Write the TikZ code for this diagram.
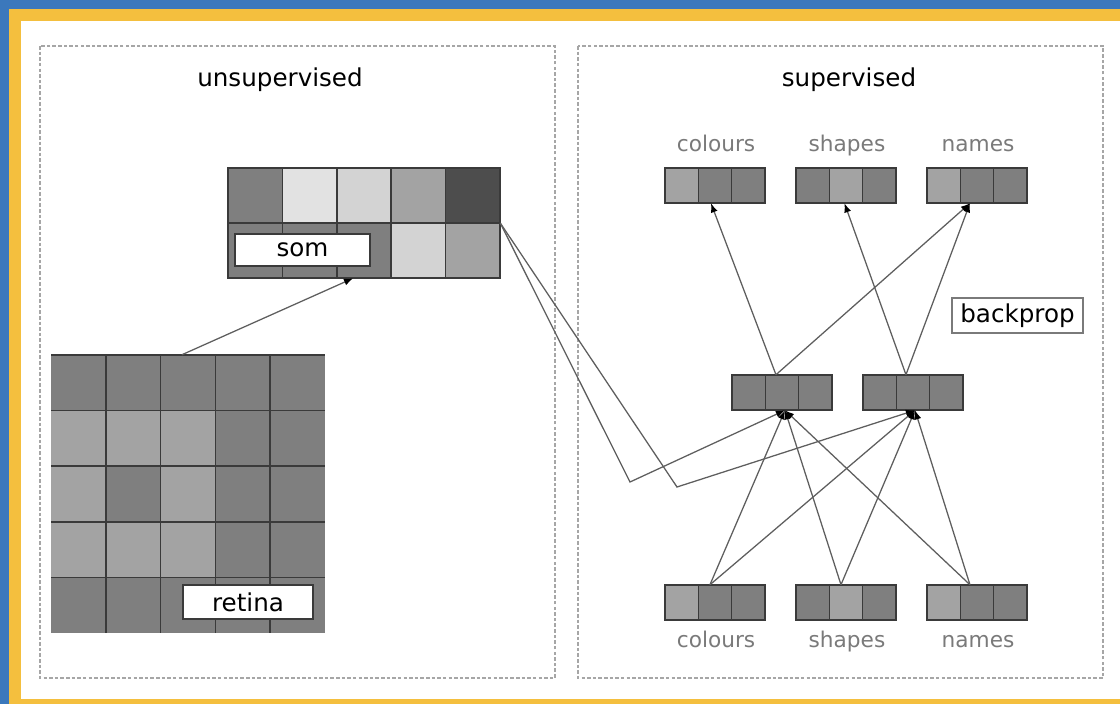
\documentclass[tikz,border=0pt]{standalone}
\usepackage{fontspec}
\setmainfont{DejaVu Sans}
\usetikzlibrary{arrows.meta,calc,fit}

\definecolor{frameblue}{HTML}{3B78BC}
\definecolor{frameyellow}{HTML}{F4BF3E}
\definecolor{boxdash}{HTML}{A6A6A6}
\definecolor{cellA}{HTML}{7F7F7F}
\definecolor{cellB}{HTML}{A3A3A3}
\definecolor{cellC}{HTML}{D3D3D3}
\definecolor{cellD}{HTML}{E2E2E2}
\definecolor{cellE}{HTML}{4D4D4D}
\definecolor{gridcol}{HTML}{3A3A3A}
\definecolor{wirecol}{HTML}{5E5E5E}
\definecolor{labelgray}{HTML}{7A7A7A}

% a layer of three units: name, x, y, three fill colours
\newcommand{\unitrow}[6]{%
  \fill[#4] (#2,#3) rectangle ++(33.33,35);
  \fill[#5] (#2+33.33,#3) rectangle ++(33.33,35);
  \fill[#6] (#2+66.67,#3) rectangle ++(33.33,35);
  \draw[gridline] (#2,#3) rectangle ++(100,35);
  \draw[gridline] (#2+33.33,#3) -- ++(0,35);
  \draw[gridline] (#2+66.67,#3) -- ++(0,35);
  \node[fit={(#2,#3)(#2+100,#3+35)}, inner sep=0pt] (#1) {};
}

\tikzset{
  panel/.style={draw=boxdash, line width=1pt, dash pattern=on 2.5pt off 1.5pt},
  gridline/.style={draw=gridcol, line width=1.1pt},
  title/.style={font=\fontsize{17.5}{20}\selectfont, text=black, anchor=base},
  unitlabel/.style={font=\fontsize{15.4}{18}\selectfont, text=labelgray, anchor=base},
  tagbox/.style={fill=white, draw=gridcol, line width=0.8pt, inner sep=0pt,
    font=\fontsize{17.5}{20}\selectfont},
  backbox/.style={fill=white, draw=labelgray, line width=1pt, inner sep=0pt,
    minimum width=3.275cm, minimum height=0.875cm, font=\fontsize{17.5}{20}\selectfont},
  wire/.style={draw=wirecol, line width=0.9pt,
    -{Latex[length=6.5pt,width=5pt,color=black]}},
}

\begin{document}
\begin{tikzpicture}[x=0.025cm,y=-0.025cm]
\useasboundingbox (0,0) rectangle (1120,704);

% frame
\fill[frameblue] (0,0) rectangle (1120,704);
\fill[frameyellow] (9,9) rectangle (1120,704);
\fill[white] (21,21) rectangle (1120,699);

% the two panels
\draw[panel] (40,46) rectangle (555,678);
\draw[panel] (578,46) rectangle (1103,678);
\node[title] (tUns) at (280,86) {unsupervised};
\node[title] (tSup) at (849,86) {supervised};

% self-organising map
\foreach \i/\c in {0/cellA,1/cellD,2/cellC,3/cellB,4/cellE}
  \fill[\c] (228+\i*54.4,168) rectangle ++(54.4,55);
\foreach \i/\c in {0/cellA,1/cellA,2/cellA,3/cellC,4/cellB}
  \fill[\c] (228+\i*54.4,223) rectangle ++(54.4,55);
\draw[gridline] (228,168) rectangle (500,278);
\draw[gridline] (228,223) -- (500,223);
\foreach \i in {1,...,4} \draw[gridline] (228+\i*54.4,168) -- ++(0,110);
\node[fit={(228,168)(500,278)}, inner sep=0pt] (som) {};
\node[tagbox, minimum width=3.375cm, minimum height=0.8cm] (somtag) at (302.5,250) {som};

% retina
\fill[cellA] (51,355) rectangle (325,633);
\fill[cellB] (51,410.6) rectangle (215.4,577.4);
\fill[cellA] (105.8,466.2) rectangle (160.6,521.8);
\foreach \i in {1,...,4} {
  \draw[gridline] (51+\i*54.8,355) -- ++(0,278);
  \draw[gridline] (51,355+\i*55.6) -- ++(274,0);
}
\draw[gridline] (51,355) -- (325,355);
\node[fit={(51,355)(325,633)}, inner sep=0pt] (retina) {};
\node[tagbox, minimum width=3.25cm, minimum height=0.85cm] (rettag) at (248,602) {retina};

% output layers
\unitrow{outC}{665}{168}{cellB}{cellA}{cellA}
\unitrow{outS}{796}{168}{cellA}{cellB}{cellA}
\unitrow{outN}{927}{168}{cellB}{cellA}{cellA}
\node[unitlabel] (lOutC) at (716,151) {colours};
\node[unitlabel] (lOutS) at (847,151) {shapes};
\node[unitlabel] (lOutN) at (978,151) {names};

% hidden layer
\unitrow{hidA}{732}{375}{cellA}{cellA}{cellA}
\unitrow{hidB}{863}{375}{cellA}{cellA}{cellA}

% input layers
\unitrow{inC}{665}{585}{cellB}{cellA}{cellA}
\unitrow{inS}{796}{585}{cellA}{cellB}{cellA}
\unitrow{inN}{927}{585}{cellB}{cellA}{cellA}
\node[unitlabel] (lInC) at (716,647) {colours};
\node[unitlabel] (lInS) at (847,647) {shapes};
\node[unitlabel] (lInN) at (978,647) {names};

\node[backbox] (bp) at (1017.5,315.5) {backprop};

% retina feeds the map
\draw[wire] ($(retina.north west)!0.478!(retina.north east)$)
  -- ($(som.south west)!0.46!(som.south east)$);

% hidden units to outputs
\draw[wire] ($(hidA.north west)!0.44!(hidA.north east)$) -- ($(outC.south west)!0.46!(outC.south east)$);
\draw[wire] ($(hidA.north west)!0.44!(hidA.north east)$) -- ($(outN.south west)!0.43!(outN.south east)$);
\draw[wire] ($(hidB.north west)!0.43!(hidB.north east)$) -- ($(outS.south west)!0.485!(outS.south east)$);
\draw[wire] ($(hidB.north west)!0.43!(hidB.north east)$) -- ($(outN.south west)!0.43!(outN.south east)$);

% inputs to hidden units
\foreach \src/\f in {inC/0.45,inS/0.45,inN/0.43} {
  \draw[wire] ($(\src.north west)!\f!(\src.north east)$) -- ($(hidA.south west)!0.53!(hidA.south east)$);
  \draw[wire] ($(\src.north west)!\f!(\src.north east)$) -- ($(hidB.south west)!0.52!(hidB.south east)$);
}

% map to hidden units
\coordinate (bendA) at (630,482);
\coordinate (bendB) at (677,487);
\draw[wire] (som.east) -- (bendA) -- ($(hidA.south west)!0.53!(hidA.south east)$);
\draw[wire] (som.east) -- (bendB) -- ($(hidB.south west)!0.52!(hidB.south east)$);
\end{tikzpicture}
\end{document}
